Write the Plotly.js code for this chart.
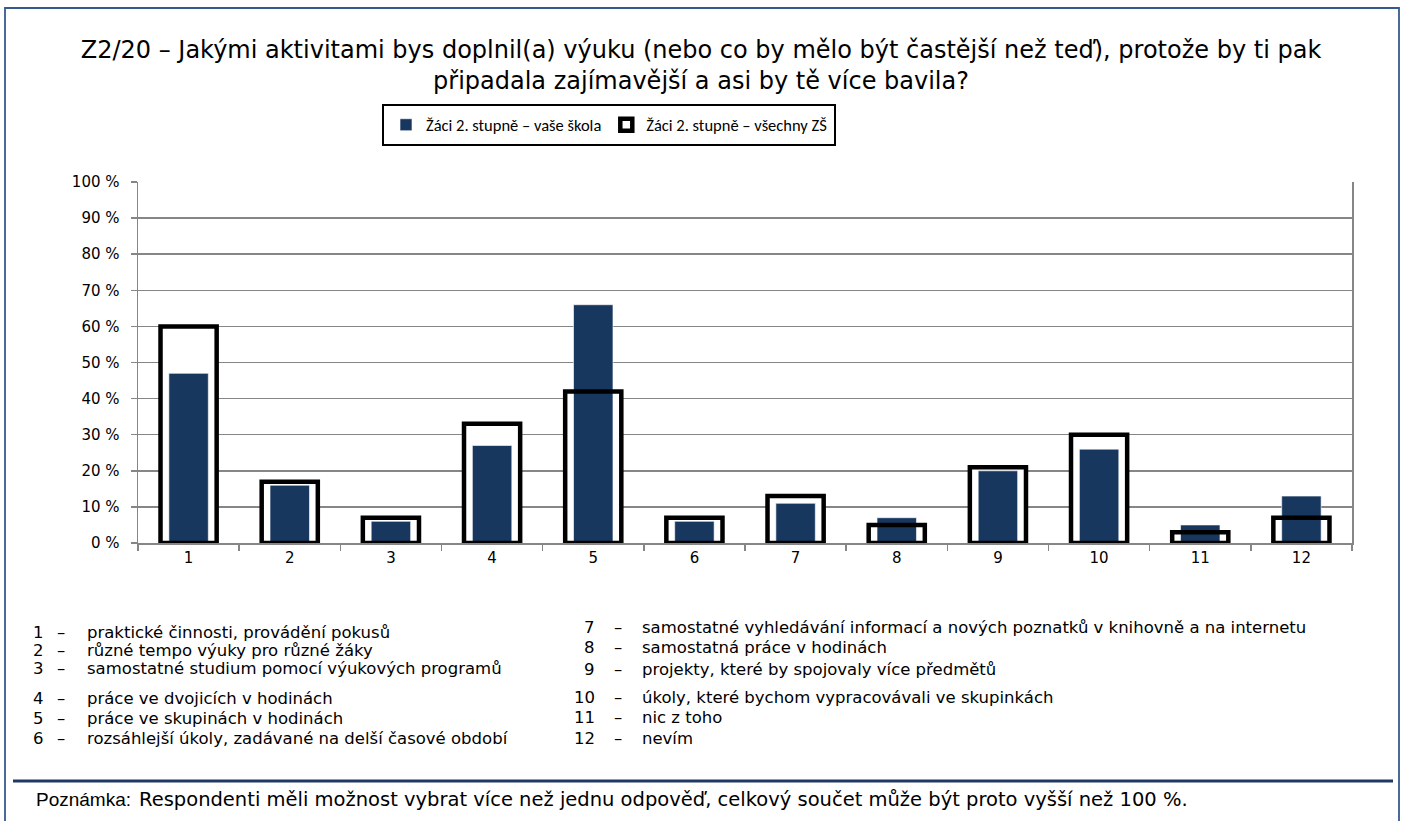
<!DOCTYPE html>
<html>
<head>
<meta charset="utf-8">
<script src="https://cdn.plot.ly/plotly-3.0.1.min.js"></script>
<style>html,body{margin:0;padding:0;background:#fff;}#chart{width:1402px;height:821px;}</style>
</head>
<body>
<div id="chart"></div>
<script>
// ---- data ----
const categories = ['1','2','3','4','5','6','7','8','9','10','11','12'];
const schoolValues = [47, 16, 6, 27, 66, 6, 11, 7, 20, 26, 5, 13];   // Žáci 2. stupně – vaše škola
const allValues    = [60, 17, 7, 33, 42, 7, 13, 5, 21, 30, 3, 7];    // Žáci 2. stupně – všechny ZŠ
const seriesNames = ['Žáci 2. stupně – vaše škola', 'Žáci 2. stupně – všechny ZŠ'];
const yTickValues = [0,10,20,30,40,50,60,70,80,90,100];
const yTickLabels = ['0 %','10 %','20 %','30 %','40 %','50 %','60 %','70 %','80 %','90 %','100 %'];
const descriptions = [
  'praktické činnosti, provádění pokusů',
  'různé tempo výuky pro různé žáky',
  'samostatné studium pomocí výukových programů',
  'práce ve dvojicích v hodinách',
  'práce ve skupinách v hodinách',
  'rozsáhlejší úkoly, zadávané na delší časové období',
  'samostatné vyhledávání informací a nových poznatků v knihovně a na internetu',
  'samostatná práce v hodinách',
  'projekty, které by spojovaly více předmětů',
  'úkoly, které bychom vypracovávali ve skupinkách',
  'nic z toho',
  'nevím'
];
const titleText = 'Z2/20 – Jakými aktivitami bys doplnil(a) výuku (nebo co by mělo být častější než teď), protože by ti pak<br>připadala zajímavější a asi by tě více bavila?';
const noteLabel = 'Poznámka:';
const noteText = 'Respondenti měli možnost vybrat více než jednu odpověď, celkový součet může být proto vyšší než 100 %.';

// ---- layout geometry (pixels) ----
const W = 1402, H = 821;
const L = 138, R = 1352, T = 182, B = 543;
const PW = R - L, PH = B - T;
const px = v => (v - L) / PW;
const py = v => (B - v) / PH;

const SANS = 'DejaVu Sans, Liberation Sans, Arial, sans-serif';
const textFont = {family: SANS, size: 16.5, color: '#000'};
const noteFont = {family: SANS, size: 19.5, color: '#000'};
const noteLabelFont = {family: 'Liberation Sans, Arial, sans-serif', size: 19, color: '#000'};
const tickFont = {family: SANS, size: 15, color: '#000'};
const legendFont = {family: 'Carlito, Calibri, Liberation Sans, Arial, sans-serif', size: 16.5, color: '#000'};

const outlineWidth = 0.555, fillWidth = 0.39;

const traces = [
  {type:'bar', x: categories, y: allValues, width: outlineWidth, marker:{color:'#ffffff', line:{width:0}},
   showlegend:false, hoverinfo:'skip'},
  {type:'bar', x: categories, y: schoolValues, width: fillWidth, name: seriesNames[0],
   marker:{color:'#17375E', line:{width:0.6, color:'#ffffff'}}},
  {type:'bar', x: categories, y: allValues, width: outlineWidth, name: seriesNames[1],
   marker:{color:'rgba(255,255,255,0)', line:{width:4.5, color:'#000000'}}}
];

// description annotations
const annotations = [];
const col1Y = [632, 650, 668, 698, 718, 738];
const col2Y = [627, 647, 669, 697, 717, 738];
descriptions.forEach((d, i) => {
  const col2 = i >= 6;
  const yy = col2 ? col2Y[i-6] : col1Y[i];
  const numRight = col2 ? 597 : 46;
  const dashX = col2 ? 618 : 61;
  const textX = col2 ? 640 : 85;
  annotations.push({xref:'paper', yref:'paper', x: px(numRight), y: py(yy), xanchor:'right', yanchor:'middle',
    text: categories[i], showarrow:false, font: textFont});
  annotations.push({xref:'paper', yref:'paper', x: px(dashX), y: py(yy), xanchor:'center', yanchor:'middle',
    text: '–', showarrow:false, font: textFont});
  annotations.push({xref:'paper', yref:'paper', x: px(textX), y: py(yy), xanchor:'left', yanchor:'middle',
    text: d, showarrow:false, font: textFont});
});
annotations.push({xref:'paper', yref:'paper', x: px(34), y: py(799), xanchor:'left', yanchor:'middle',
  text: noteLabel, showarrow:false, font: noteLabelFont});
annotations.push({xref:'paper', yref:'paper', x: px(137), y: py(799), xanchor:'left', yanchor:'middle',
  text: noteText, showarrow:false, font: noteFont});

const frameColor = '#375A8C';
const shapes = [
  {type:'rect', xref:'paper', yref:'paper', x0: px(5), x1: px(1399), y0: py(8), y1: py(860),
   line:{color: frameColor, width:1.8}, fillcolor:'rgba(0,0,0,0)', layer:'below'},
  {type:'line', xref:'paper', yref:'paper', x0: px(13), x1: px(1393), y0: py(781), y1: py(781),
   line:{color:'#1F3864', width:3}},
  {type:'rect', xref:'paper', yref:'paper', x0: px(383), x1: px(835), y0: py(105), y1: py(145),
   line:{color:'#000', width:2}, fillcolor:'rgba(0,0,0,0)'}
];

const layout = {
  width: W, height: H,
  margin: {l: L, r: W - R, t: T, b: H - B, pad: 0},
  paper_bgcolor:'#ffffff', plot_bgcolor:'#ffffff',
  barmode:'overlay',
  title: {text: titleText, font: {family: SANS, size: 24, color:'#000'},
          x: 0.5, xref:'container', xanchor:'center', y: 1 - 58/H, yref:'container', yanchor:'top'},
  xaxis: {type:'category', range:[-0.5, 11.5], showline:true, linecolor:'#868686', linewidth:1.5,
          ticks:'outside', tickson:'boundaries', ticklen:6, tickcolor:'#868686', tickwidth:1.5,
          showgrid:false, tickfont: tickFont, fixedrange:true},
  yaxis: {range:[0,100], tickvals: yTickValues, ticktext: yTickLabels, showline:true, mirror:true,
          linecolor:'#868686', linewidth:1.5, ticks:'outside', ticklen:6, tickcolor:'#868686', tickwidth:1.5,
          ticklabelstandoff: 8,
          showgrid:true, gridcolor:'#868686', gridwidth:1.5, zeroline:false, tickfont: tickFont, fixedrange:true},
  legend: {orientation:'h', x: px(609), xanchor:'center', y: py(125), yanchor:'middle',
           borderwidth:0, bgcolor:'rgba(0,0,0,0)', font: legendFont, traceorder:'normal'},
  annotations: annotations,
  shapes: shapes,
  showlegend: true
};

Plotly.newPlot('chart', traces, layout, {displayModeBar:false, staticPlot:true});
</script>
</body>
</html>
